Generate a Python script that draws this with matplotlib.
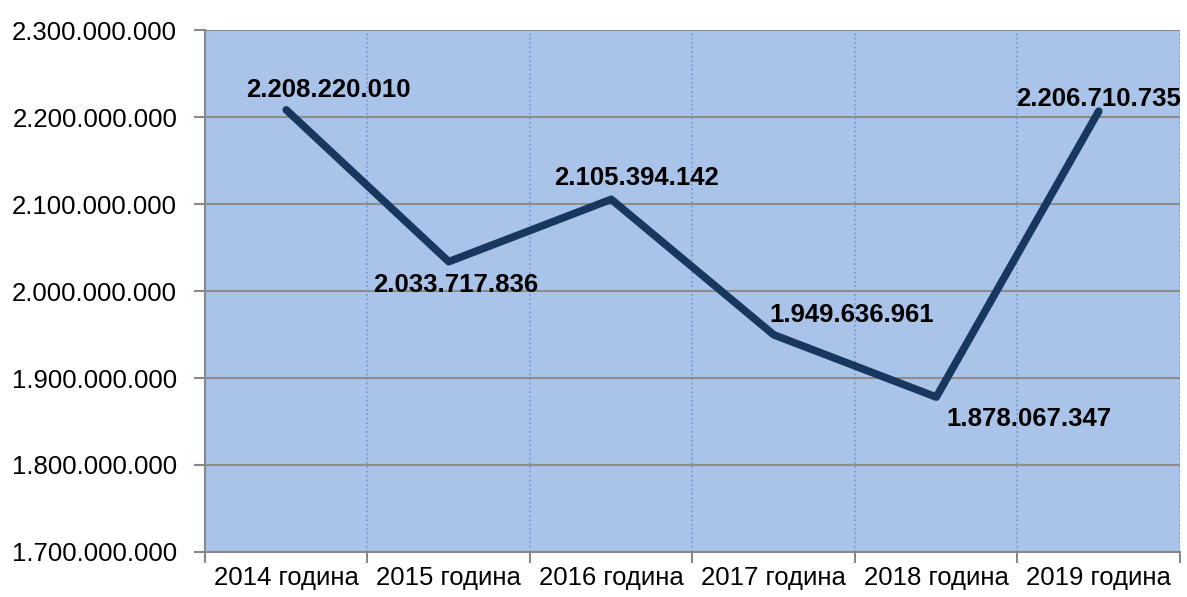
import numpy as np
import matplotlib.pyplot as plt
import matplotlib.ticker as mticker

plt.rcParams['font.family'] = ['Liberation Sans', 'DejaVu Sans']

# Data
years = ["2014 година", "2015 година", "2016 година",
         "2017 година", "2018 година", "2019 година"]
values = [2208220010, 2033717836, 2105394142,
          1949636961, 1878067347, 2206710735]

# Label offsets (points) relative to each data point
label_offsets = [(30, 14), (5, -17), (18, 15), (56, 14), (67, -16), (0, 9)]


def fmt_dots(v, pos=None):
    return f"{int(round(v)):,}".replace(",", ".")


def main():
    fig = plt.figure(figsize=(11.87, 5.97), dpi=100)
    ax = fig.add_axes([0.1727, 0.0754, 0.8214, 0.8743])

    ax.set_facecolor("#aac3e8")
    x = np.arange(len(years))
    ax.plot(x, values, color="#17375e", linewidth=5.5,
            solid_capstyle="round", solid_joinstyle="round", zorder=3)

    for xi, v, off in zip(x, values, label_offsets):
        ax.annotate(fmt_dots(v), (xi, v), xytext=off, textcoords="offset points",
                    ha="center", va="center", fontsize=18.5, fontweight="bold",
                    color="black", zorder=4)

    ax.set_xlim(-0.5, len(years) - 0.5)
    ax.set_ylim(1.7e9, 2.3e9)
    ax.yaxis.set_major_locator(mticker.MultipleLocator(1e8))
    ax.yaxis.set_major_formatter(mticker.FuncFormatter(fmt_dots))

    ax.set_xticks(x)
    ax.set_xticklabels(years)
    ax.set_xticks(np.arange(-0.5, len(years)), minor=True)
    ax.tick_params(axis="x", which="major", length=0, pad=10, labelsize=18.5)
    ax.tick_params(axis="x", which="minor", length=8, color="#888888", width=1.5)
    ax.tick_params(axis="y", length=8, color="#888888", width=1.5, labelsize=18.5, pad=12)

    ax.grid(axis="y", color="#8c8c8c", linewidth=1.5, zorder=1)
    ax.grid(axis="x", which="minor", color="#6f96d0", linestyle=":", linewidth=1.2)
    ax.set_axisbelow(True)

    for s in ["top", "right"]:
        ax.spines[s].set_visible(False)
    for s in ["left", "bottom"]:
        ax.spines[s].set_color("#888888")
        ax.spines[s].set_linewidth(1.5)

    fig.savefig("out.png", dpi=100)


if __name__ == "__main__":
    main()
